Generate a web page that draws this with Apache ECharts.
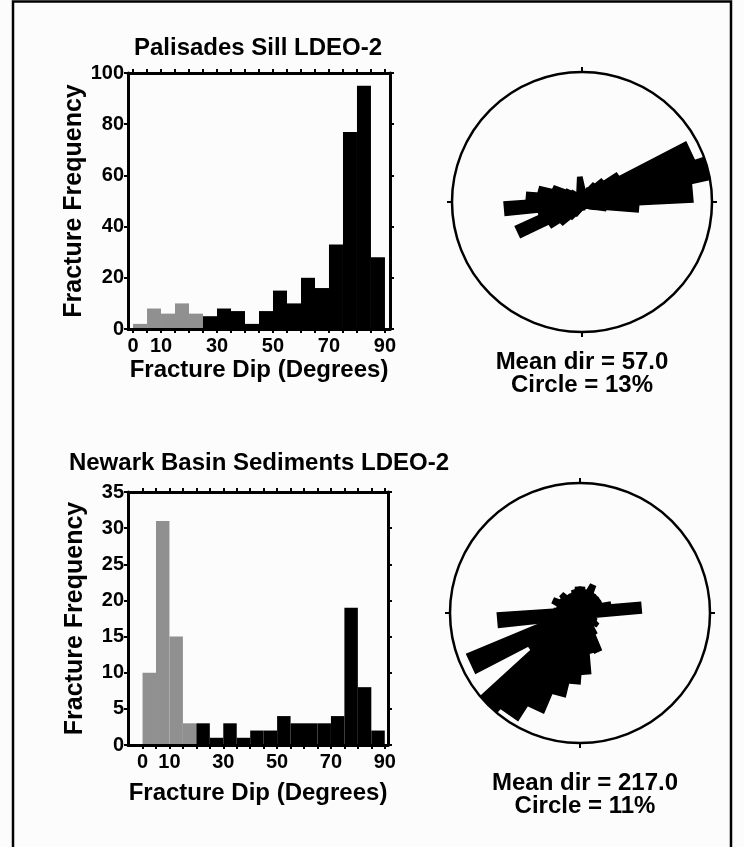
<!DOCTYPE html>
<html><head><meta charset="utf-8">
<script src="https://cdn.jsdelivr.net/npm/echarts@6/dist/echarts.min.js"></script>
<style>html,body{margin:0;padding:0;background:#fcfcfc}#c{width:744px;height:847px}</style>
</head><body><div id="c"></div>
<script>
// ---- data ----
const binStart = [0,5,10,15,20,25,30,35,40,45,50,55,60,65,70,75,80,85];
const binEnd   = [5,10,15,20,25,30,35,40,45,50,55,60,65,70,75,80,85,90];
const sillCounts = [2,8,6,10,6,5,8,7,2,7,15,10,20,16,33,77,95,28];
const sillGrayBins = 5;
const sedCounts = [10,31,15,3,3,1,3,1,2,2,4,3,3,3,4,19,8,2];
const sedGrayBins = 4;
const xTickValues = [0,5,10,15,20,25,30,35,40,45,50,55,60,65,70,75,80,85,90];
const xLabelValues = [0,10,30,50,70,90];
const roseStart = [0,10,20,30,40,50,60,70,80,90,100,110,120,130,140,150,160,170,
                   180,190,200,210,220,230,240,250,260,270,280,290,300,310,320,330,340,350];
const roseEnd   = [10,20,30,40,50,60,70,80,90,100,110,120,130,140,150,160,170,180,
                   190,200,210,220,230,240,250,260,270,280,290,300,310,320,330,340,350,360];
const sillRose = [1.0,1.0,1.5,2.2,3.0,4.5,12.0,13.0,11.1,5.7,2.5,1.5,1.0,0.8,0.5,0.5,0.8,0.5,
                  0.5,1.0,1.5,2.0,3.0,4.0,7.1,4.5,7.8,5.6,4.5,3.2,2.0,1.5,1.0,1.0,1.0,2.5];
const sedRose = [2.2,2.0,2.6,2.0,2.0,2.0,2.0,2.7,5.2,1.0,1.2,1.5,1.8,1.5,2.2,3.6,3.5,5.2,
                 6.0,7.2,9.0,10.5,11.0,5.2,10.2,2.8,7.0,2.2,2.0,2.5,2.0,2.2,1.8,1.8,2.0,2.2];
const sillTitle = 'Palisades Sill LDEO-2';
const sedTitle = 'Newark Basin Sediments LDEO-2';
const sillStats = ['Mean dir = 57.0', 'Circle = 13%'];
const sedStats = ['Mean dir = 217.0', 'Circle = 11%'];

// ---- chart ----
const FONT = '"Liberation Sans", Arial, Helvetica, sans-serif';
const GRAY = '#909090';
const PETAL_BASE_HALF = 5.5;
const chart = echarts.init(document.getElementById('c'), null, {renderer:'canvas', width:744, height:847});

function histData(counts, grayBins){
  return counts.map((v,i)=>[binStart[i], binEnd[i], v, i<grayBins?1:0]);
}
function roseData(vals){
  return vals.map((v,i)=>[roseStart[i], roseEnd[i], v]);
}
function renderHist(params, api){
  const lo = api.value(0), hi = api.value(1), v = api.value(2), g = api.value(3);
  const p0 = api.coord([lo, 0]);
  const p1 = api.coord([hi, v]);
  return {type:'rect', shape:{x:p0[0], y:p1[1], width:p1[0]-p0[0], height:p0[1]-p1[1]},
          style:{fill: g ? GRAY : '#000'}};
}
function renderPetal(params, api){
  const a0 = api.value(0), a1 = api.value(1), v = api.value(2);
  const am = (a0 + a1) / 2;
  const c = api.coord([0, am]);
  const tip = api.coord([v, am]);
  const p0 = api.coord([v, a0]);
  const p1 = api.coord([v, a1]);
  const dx = tip[0]-c[0], dy = tip[1]-c[1];
  const len = Math.sqrt(dx*dx+dy*dy) || 1;
  const nx = -dy/len, ny = dx/len;
  const b1 = [c[0]+nx*PETAL_BASE_HALF, c[1]+ny*PETAL_BASE_HALF];
  const b2 = [c[0]-nx*PETAL_BASE_HALF, c[1]-ny*PETAL_BASE_HALF];
  const side0 = (p0[0]-c[0])*nx + (p0[1]-c[1])*ny;
  const pts = side0 > 0 ? [b1, p0, p1, b2] : [b1, p1, p0, b2];
  return {type:'polygon', shape:{points:pts},
          style:{fill:'#000', stroke:'#000', lineWidth:1.5, lineJoin:'miter'}};
}
const lineSt = {color:'#000', width:3};
const tickSt = {color:'#000', width:2};
function xAxisPair(gi, min, max, nameGap){
  return [
    {gridIndex:gi, type:'value', min:min, max:max, position:'bottom', z:5,
     axisLine:{show:true, onZero:false, lineStyle:lineSt},
     axisTick:{show:true, customValues:xTickValues, length:4, lineStyle:tickSt},
     axisLabel:{show:true, customValues:xLabelValues, fontSize:20, fontWeight:'bold', fontFamily:FONT, color:'#000', margin:7},
     splitLine:{show:false},
     name:'Fracture Dip (Degrees)', nameLocation:'middle', nameGap:nameGap,
     nameTextStyle:{fontSize:24, fontWeight:'bold', fontFamily:FONT, color:'#000'}},
    {gridIndex:gi, type:'value', min:min, max:max, position:'top', z:5,
     axisLine:{show:true, onZero:false, lineStyle:lineSt},
     axisTick:{show:true, customValues:xTickValues, length:4, lineStyle:tickSt},
     axisLabel:{show:false}, splitLine:{show:false}}
  ];
}
function yAxisPair(gi, max, interval){
  return [
    {gridIndex:gi, type:'value', min:0, max:max, interval:interval, position:'left', z:5,
     axisLine:{show:true, onZero:false, lineStyle:lineSt},
     axisTick:{show:true, length:4, lineStyle:tickSt},
     axisLabel:{fontSize:20, fontWeight:'bold', fontFamily:FONT, color:'#000', margin:4},
     splitLine:{show:false},
     name:'Fracture Frequency', nameLocation:'middle', nameGap:40, nameRotate:90,
     nameTextStyle:{fontSize:25, fontWeight:'bold', fontFamily:FONT, color:'#000'}},
    {gridIndex:gi, type:'value', min:0, max:max, interval:interval, position:'right', z:5,
     axisLine:{show:true, onZero:false, lineStyle:lineSt},
     axisTick:{show:true, length:4, lineStyle:tickSt},
     axisLabel:{show:false}, splitLine:{show:false}}
  ];
}
function angleAx(pi){
  return {polarIndex:pi, type:'value', min:0, max:360, interval:90, startAngle:90, clockwise:true, z:1,
    axisLine:{show:true, lineStyle:{color:'#000', width:2.5}},
    axisTick:{show:true, length:5, lineStyle:{color:'#000', width:2}},
    axisLabel:{show:false}, splitLine:{show:false}, splitArea:{show:false}};
}
function textEl(x, y, str, size){
  return {type:'text', x:x, y:y, silent:true,
    style:{text:str, fill:'#000', font:'bold '+size+'px '+FONT, textAlign:'center', textVerticalAlign:'middle'}};
}

const option = {
  backgroundColor:'#fcfcfc',
  animation:false,
  grid:[
    {left:128, top:73, width:262, height:256},
    {left:128, top:492, width:260, height:253}
  ],
  xAxis:[].concat(xAxisPair(0, -1.8, 91.8, 29), xAxisPair(1, -5.4, 91.2, 36)),
  yAxis:[].concat(yAxisPair(0, 100, 20), yAxisPair(1, 35, 5)),
  polar:[
    {center:[582,202], radius:130},
    {center:[580,613], radius:130}
  ],
  angleAxis:[angleAx(0), angleAx(1)],
  radiusAxis:[
    {polarIndex:0, type:'value', min:0, max:13, show:false, splitLine:{show:false}},
    {polarIndex:1, type:'value', min:0, max:11, show:false, splitLine:{show:false}}
  ],
  series:[
    {type:'custom', xAxisIndex:0, yAxisIndex:0, data:histData(sillCounts, sillGrayBins),
     encode:{x:[0,1], y:2}, renderItem:renderHist, silent:true},
    {type:'custom', xAxisIndex:2, yAxisIndex:2, data:histData(sedCounts, sedGrayBins),
     encode:{x:[0,1], y:2}, renderItem:renderHist, silent:true},
    {type:'custom', coordinateSystem:'polar', polarIndex:0, data:roseData(sillRose),
     encode:{radius:2, angle:[0,1]}, renderItem:renderPetal, silent:true},
    {type:'custom', coordinateSystem:'polar', polarIndex:1, data:roseData(sedRose),
     encode:{radius:2, angle:[0,1]}, renderItem:renderPetal, silent:true}
  ],
  graphic:[
    {type:'rect', silent:true, shape:{x:13, y:1.5, width:718, height:900},
     style:{fill:'none', stroke:'#000', lineWidth:2.5}},
    textEl(258, 48, sillTitle, 24),
    textEl(259, 463, sedTitle, 24),
    textEl(582, 362, sillStats[0], 24),
    textEl(582, 385, sillStats[1], 24),
    textEl(585, 783, sedStats[0], 24),
    textEl(585, 806, sedStats[1], 24)
  ]
};
chart.setOption(option);
</script>
</body></html>
